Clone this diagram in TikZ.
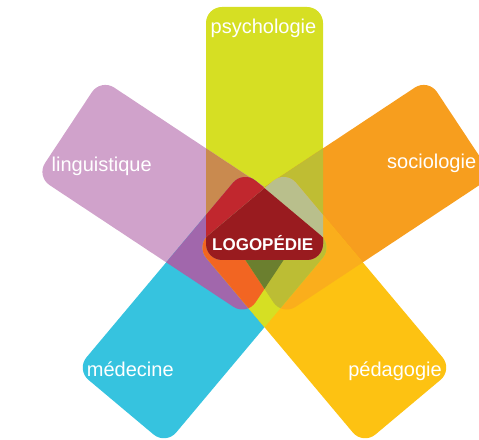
\documentclass[tikz,border=0pt]{standalone}
\usepackage{fontspec}
\setmainfont{Liberation Sans}
\usepackage{tikz}

\definecolor{psyGruen}{RGB}{214,223,35}
\definecolor{lingLila}{RGB}{208,162,203}
\definecolor{sozOrange}{RGB}{247,158,30}
\definecolor{medBlau}{RGB}{54,195,223}
\definecolor{paedGelb}{RGB}{253,194,18}
\definecolor{lingPsy}{RGB}{201,138,79}
\definecolor{sozPsy}{RGB}{191,189,51}
\definecolor{lingMed}{RGB}{161,103,172}
\definecolor{sozPaed}{RGB}{250,174,28}
\definecolor{kernRot}{RGB}{193,39,46}
\definecolor{kernDunkel}{RGB}{153,27,31}
\definecolor{kernKhaki}{RGB}{185,191,140}
\definecolor{kernOrange}{RGB}{242,101,34}
\definecolor{kernOliv}{RGB}{107,127,47}
\definecolor{kernGelbOliv}{RGB}{188,189,52}

\tikzstyle{psy} = [shift={(264.5,305.5)}, rotate=90, rounded corners=16pt]
\tikzstyle{ling} = [shift={(173.8,241.8)}, rotate=-33.5, rounded corners=16pt]
\tikzstyle{soz} = [shift={(355.2,241.8)}, rotate=33.5, rounded corners=16pt]
\tikzstyle{med} = [shift={(204.6,131.4)}, rotate=50, rounded corners=16pt]
\tikzstyle{paed} = [shift={(324.4,131.4)}, rotate=-50, rounded corners=16pt]
\tikzstyle{fach} = [text=white, anchor=base, inner sep=0pt, font=\fontsize{20}{24}\selectfont]

\newcommand{\blatt}[1]{(-#1/2,-58.5) rectangle (#1/2,58.5)}
\newcommand{\Psy}{\clip[psy] \blatt{253};}
\newcommand{\Ling}{\clip[ling] \blatt{252.5};}
\newcommand{\Soz}{\clip[soz] \blatt{252.5};}
\newcommand{\Med}{\clip[med] \blatt{260};}
\newcommand{\Paed}{\clip[paed] \blatt{260};}
\newcommand{\flaeche}[1]{\fill[#1] (0,0) rectangle (479,439);}

\begin{document}
\begin{tikzpicture}[x=1pt, y=1pt]
		\useasboundingbox (0,0) rectangle (479,439);
		\clip (0,0) rectangle (479,439);
		
		% 1st pass: Blaetter
		\fill[psyGruen, psy] \blatt{253};		% Psychologie
		\fill[lingLila, ling] \blatt{252.5};	% Linguistik
		\fill[sozOrange, soz] \blatt{252.5};	% Soziologie
		\fill[medBlau, med] \blatt{260};		% Medizin
		\fill[paedGelb, paed] \blatt{260};		% Paedagogik
		
		% 2nd pass: Schnittflaechen
		\begin{scope} \Ling \Psy \flaeche{lingPsy} \end{scope}
		\begin{scope} \Soz \Psy \flaeche{sozPsy} \end{scope}
		\begin{scope} \Ling \Med \flaeche{lingMed} \end{scope}
		\begin{scope} \Soz \Paed \flaeche{sozPaed} \end{scope}
		\begin{scope} \Med \Paed \flaeche{psyGruen} \end{scope}
		\begin{scope} \Ling \Med \Paed \flaeche{kernOrange} \end{scope}
		\begin{scope} \Soz \Med \Paed \flaeche{kernGelbOliv} \end{scope}
		\begin{scope} \Ling \Soz \Med \Paed \flaeche{kernOliv} \end{scope}
		\begin{scope} \Psy \Ling \Soz \flaeche{psyGruen} \end{scope}
		
		% 3rd pass: Kern
		\begin{scope} \Psy \Med \flaeche{kernRot} \end{scope}
		\begin{scope} \Psy \Paed \flaeche{kernKhaki} \end{scope}
		\begin{scope} \Psy \Med \Paed \flaeche{kernDunkel} \end{scope}
		
		% Beschriftung
		\node[fach] (psychologie) at (263.5,405.7) {psychologie};
		\node[fach] (linguistique) at (101.7,267.3) {linguistique};
		\node[fach] (sociologie) at (431.7,270.7) {sociologie};
		\node[fach] (medecine) at (130.3,62.3) {médecine};
		\node[fach] (pedagogie) at (395,62.3) {pédagogie};
		\node[fach, font=\bfseries\fontsize{17}{20}\selectfont] (logopedie) at (262.7,188.3) {LOGOPÉDIE};
		
		\end{tikzpicture}
\end{document}
